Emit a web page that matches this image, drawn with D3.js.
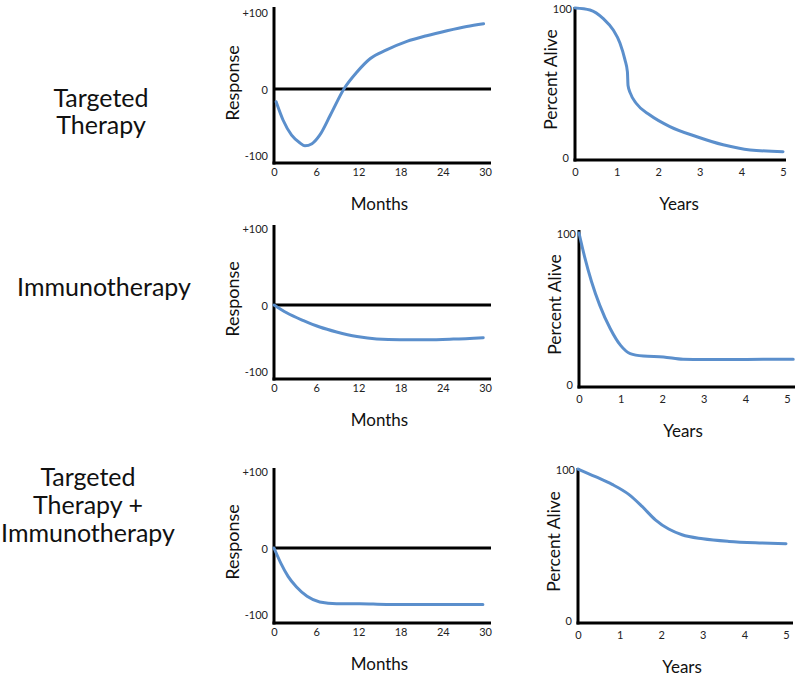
<!DOCTYPE html>
<html>
<head>
<meta charset="utf-8">
<script src="https://cdn.jsdelivr.net/npm/d3@7"></script>
<style>
  html, body { margin: 0; padding: 0; background: #fff; }
  svg { display: block; font-family: Lato, "Open Sans", sans-serif; }
</style>
</head>
<body>
<svg id="chart" width="800" height="678"></svg>
<script>
// ---------------- DATA ----------------
const rowLabels = [
  ["Targeted", "Therapy"],
  ["Immunotherapy"],
  ["Targeted", "Therapy +", "Immunotherapy"]
];

const monthTicks = [0, 6, 12, 18, 24, 30];
const yearTicks = [0, 1, 2, 3, 4, 5];
const responseTicks = [100, 0, -100];
const responseTickLabels = ["+100", "0", "-100"];
const survivalTicks = [100, 0];
const survivalTickLabels = ["100", "0"];

// Row 1: Targeted therapy
const ttResponseMonths = [0.3, 1.3, 2.5, 3.7, 4.4, 5.4, 6.5, 8.0, 10.0, 11.8, 13.7, 16.0, 18.9, 21.7, 24.6, 27.4, 29.8];
const ttResponseValues = [-18, -44, -65, -76, -80, -77, -65, -37, 1, 24, 43, 55, 67, 75, 82, 88, 92];
const ttSurvivalYears  = [0, 0.36, 0.68, 0.92, 1.08, 1.2, 1.26, 1.275, 1.33, 1.48, 1.8, 2.28, 2.93, 3.56, 4.21, 5.0];
const ttSurvivalValues = [100, 98.7, 93, 85.5, 77, 66, 58, 49, 44, 37, 29.6, 22, 15.3, 10, 6.6, 5.5];

// Row 2: Immunotherapy
const imResponseMonths = [0, 1.8, 4.2, 6.5, 8.9, 11.8, 14.6, 17.9, 21.7, 25.5, 29.75];
const imResponseValues = [0, -11, -22, -31, -38, -44.5, -48, -49, -49, -48, -46];
const imSurvivalYears  = [0, 0.14, 0.3, 0.5, 0.75, 1.0, 1.23, 1.55, 2.03, 2.5, 3.0, 3.63, 4.43, 5.15];
const imSurvivalValues = [100, 84, 68.5, 53, 38, 27, 21.7, 20.1, 19.5, 18, 17.8, 17.8, 18, 18];

// Row 3: Targeted therapy + immunotherapy
const coResponseMonths = [0, 1.0, 2.0, 3.2, 4.7, 6.5, 8.9, 12.2, 16.0, 20.8, 25.5, 29.7];
const coResponseValues = [0, -22, -40, -55, -68, -76, -78.5, -78.5, -79.5, -79.5, -79.5, -79.5];
const coSurvivalYears  = [0, 0.42, 0.82, 1.22, 1.54, 1.86, 2.18, 2.5, 3.0, 3.63, 4.43, 5.0];
const coSurvivalValues = [100, 95, 90, 83.5, 75.7, 67, 61, 57.3, 54.7, 53, 52, 51.5];

// ---------------- LAYOUT ----------------
const LINE_COLOR = "#5b8fcc";
const svg = d3.select("#chart");

const responsePanels = [
  { months: ttResponseMonths, values: ttResponseValues, axisX: 274, top: 7,   bottom: 163, zero: 89,  right: 491 },
  { months: imResponseMonths, values: imResponseValues, axisX: 274, top: 225, bottom: 379, zero: 305, right: 491 },
  { months: coResponseMonths, values: coResponseValues, axisX: 274, top: 468, bottom: 623, zero: 548, right: 491 }
];
const survivalPanels = [
  { years: ttSurvivalYears, values: ttSurvivalValues, axisX: 575, top: 7,   bottom: 160, y100: 8,   right: 786, x5: 783 },
  { years: imSurvivalYears, values: imSurvivalValues, axisX: 579, top: 230, bottom: 387, y100: 233, right: 795, x5: 787 },
  { years: coSurvivalYears, values: coSurvivalValues, axisX: 578, top: 468, bottom: 623, y100: 469, right: 793, x5: 786 }
];
const labelLayout = [
  { x: 101, y0: 98,  dy: 27 },
  { x: 104, y0: 287, dy: 27 },
  { x: 88,  y0: 477, dy: 28 }
];

// Row labels
rowLabels.forEach((lines, i) => {
  const L = labelLayout[i];
  const t = svg.append("text")
    .attr("text-anchor", "middle")
    .attr("font-size", 25)
    .attr("fill", "#111");
  lines.forEach((ln, j) => {
    t.append("tspan").attr("x", L.x).attr("y", L.y0 + j * L.dy).attr("dy", "0.35em").text(ln);
  });
});

function drawAxesLines(g, axisX, top, bottom, right) {
  g.append("line").attr("x1", axisX).attr("x2", axisX).attr("y1", top).attr("y2", bottom + 1.5)
    .attr("stroke", "#000").attr("stroke-width", 3);
  g.append("line").attr("x1", axisX - 1.5).attr("x2", right).attr("y1", bottom).attr("y2", bottom)
    .attr("stroke", "#000").attr("stroke-width", 3);
}

// Response panels
responsePanels.forEach(p => {
  const g = svg.append("g");
  const x = d3.scaleLinear().domain([0, 30]).range([p.axisX, 485]);
  const y = d3.scaleLinear().domain([-100, 100]).range([p.zero + 71, p.zero - 71]);

  const ax = g.append("g").attr("transform", `translate(0,${p.bottom + 5})`)
    .call(d3.axisBottom(x).tickValues(monthTicks).tickSize(0).tickPadding(0).tickFormat(d3.format("d")));
  ax.select(".domain").remove();
  ax.selectAll("text").attr("font-size", 11).attr("fill", "#222").attr("font-family", "Lato, sans-serif");

  const yOff = { "100": -5, "0": 1, "-100": -4 };
  g.selectAll(".ytl").data(responseTicks).enter().append("text")
    .attr("x", p.axisX - 6)
    .attr("y", d => y(d) + yOff[String(d)])
    .attr("dy", "0.35em")
    .attr("text-anchor", "end")
    .attr("font-size", 11).attr("fill", "#222")
    .text((d, i) => responseTickLabels[i]);

  g.append("line").attr("x1", p.axisX).attr("x2", p.right).attr("y1", y(0)).attr("y2", y(0))
    .attr("stroke", "#000").attr("stroke-width", 3);
  drawAxesLines(g, p.axisX, p.top, p.bottom, p.right);

  const pts = p.months.map((m, i) => [m, p.values[i]]);
  g.append("path").datum(pts)
    .attr("fill", "none").attr("stroke", LINE_COLOR).attr("stroke-width", 3).attr("stroke-linecap", "round")
    .attr("d", d3.line().x(d => x(d[0])).y(d => y(d[1])).curve(d3.curveMonotoneX));

  g.append("text").attr("x", x(15)).attr("y", p.bottom + 41).attr("dy", "0.35em")
    .attr("text-anchor", "middle").attr("font-size", 17).attr("fill", "#111").text("Months");
  g.append("text").attr("transform", `translate(233,${p.zero - 6}) rotate(-90)`)
    .attr("dy", "0.35em").attr("text-anchor", "middle").attr("font-size", 18).attr("fill", "#111").text("Response");
});

// Survival panels
survivalPanels.forEach(p => {
  const g = svg.append("g");
  const x = d3.scaleLinear().domain([0, 5]).range([p.axisX, p.x5]);
  const y = d3.scaleLinear().domain([0, 100]).range([p.bottom, p.y100]);

  const ax = g.append("g").attr("transform", `translate(0,${p.bottom + 8})`)
    .call(d3.axisBottom(x).tickValues(yearTicks).tickSize(0).tickPadding(0).tickFormat(d3.format("d")));
  ax.select(".domain").remove();
  ax.selectAll("text").attr("font-size", 11).attr("fill", "#222").attr("font-family", "Lato, sans-serif");

  const yOff = { "100": 1, "0": -2 };
  const xOff = { "100": -3, "0": -6 };
  g.selectAll(".ytl").data(survivalTicks).enter().append("text")
    .attr("x", d => p.axisX + xOff[String(d)])
    .attr("y", d => y(d) + yOff[String(d)])
    .attr("dy", "0.35em")
    .attr("text-anchor", "end")
    .attr("font-size", 11).attr("fill", "#222")
    .text((d, i) => survivalTickLabels[i]);

  drawAxesLines(g, p.axisX, p.top, p.bottom, p.right);

  const pts = p.years.map((yr, i) => [yr, p.values[i]]);
  g.append("path").datum(pts)
    .attr("fill", "none").attr("stroke", LINE_COLOR).attr("stroke-width", 3).attr("stroke-linecap", "round")
    .attr("d", d3.line().x(d => x(d[0])).y(d => y(d[1])).curve(d3.curveMonotoneX));

  g.append("text").attr("x", x(2.5)).attr("y", p.bottom + 44).attr("dy", "0.35em")
    .attr("text-anchor", "middle").attr("font-size", 17).attr("fill", "#111").text("Years");
  g.append("text").attr("transform", `translate(${p.axisX - 24},${(p.top + p.bottom) / 2 - 4}) rotate(-90)`)
    .attr("dy", "0.35em").attr("text-anchor", "middle").attr("font-size", 17.5).attr("fill", "#111").text("Percent Alive");
});
</script>
</body>
</html>
